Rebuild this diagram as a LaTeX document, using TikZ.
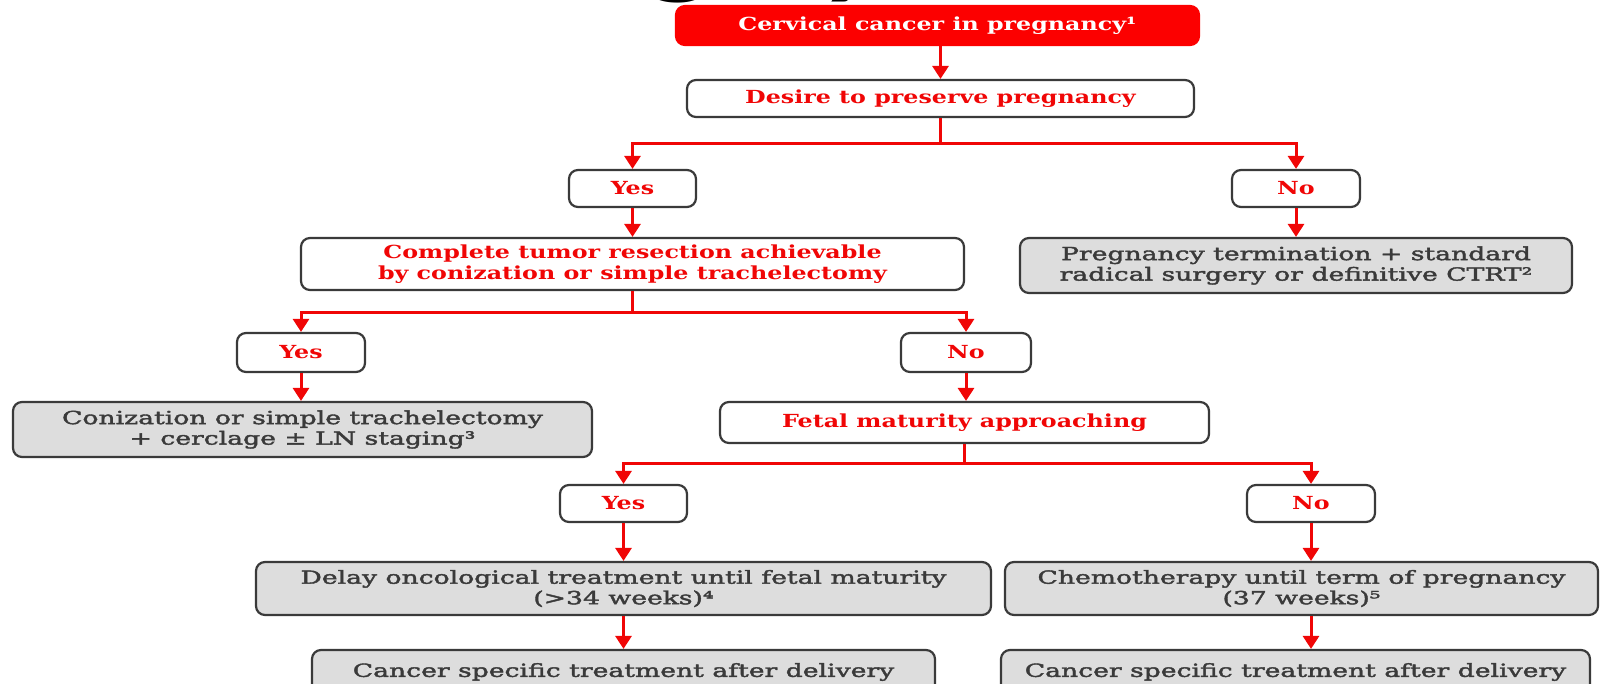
\documentclass[tikz,border=0pt]{standalone}
\usepackage{fontspec}
\usetikzlibrary{arrows.meta}
\newfontfamily\boxfont{DejaVu Serif}[FakeStretch=1.32]
\newfontfamily\actfont{DejaVu Serif}[FakeStretch=1.48, FakeBold=2.2]
\newfontfamily\titlefont{Carlito}[FakeStretch=1.5]

\definecolor{accent}{RGB}{240,6,6}
\definecolor{topfill}{RGB}{252,0,0}
\definecolor{edge}{RGB}{58,58,58}
\definecolor{shade}{RGB}{221,221,221}
\definecolor{darktext}{RGB}{58,58,58}

\tikzset{
  basebox/.style={draw=edge, line width=2.2pt, rounded corners=9pt, align=center,
    inner sep=0pt, font=\boxfont\bfseries\fontsize{18}{20.5}\selectfont},
  askbox/.style={basebox, fill=white, text=accent},
  actbox/.style={basebox, fill=shade, text=darktext,
    font=\actfont\fontsize{18}{20.5}\selectfont},
  startbox/.style={basebox, draw=topfill, fill=topfill, text=white},
  flow/.style={draw=accent, line width=3pt,
    -{Triangle[width=16pt,length=13pt]}},
  trunk/.style={draw=accent, line width=3pt},
}

\begin{document}
\begin{tikzpicture}[x=1pt, y=-1pt]
\useasboundingbox (0,0) rectangle (1602,683);

% slide heading, only its lowest part reaches into the page
\node[anchor=base west, inner sep=0pt, text=black,
  font=\titlefont\bfseries\fontsize{86}{86}\selectfont] (title) at (474,-12) {Surgery};

% decision nodes and treatment boxes
\node[startbox, minimum width=523pt, minimum height=39pt] (start) at (937.5,25.5) {Cervical cancer in pregnancy¹};
\node[askbox, minimum width=507pt, minimum height=37pt] (desire) at (940.5,98.5) {Desire to preserve pregnancy};

\node[askbox, minimum width=127pt, minimum height=37pt] (yesA) at (632.5,188.5) {Yes};
\node[askbox, minimum width=128pt, minimum height=37pt] (noA) at (1296,188.5) {No};

\node[askbox, minimum width=663pt, minimum height=52pt] (resect) at (632.5,264) {Complete tumor resection achievable\\by conization or simple trachelectomy};
\node[actbox, minimum width=552pt, minimum height=55pt] (terminate) at (1296,265.5) {Pregnancy termination + standard\\radical surgery or definitive CTRT²};

\node[askbox, minimum width=128pt, minimum height=39pt] (yesB) at (301,352.5) {Yes};
\node[askbox, minimum width=130pt, minimum height=39pt] (noB) at (966,352.5) {No};

\node[actbox, minimum width=579pt, minimum height=55pt] (coniz) at (302.5,429.5) {Conization or simple trachelectomy\\+ cerclage ± LN staging³};
\node[askbox, minimum width=489pt, minimum height=41pt] (fetal) at (964.5,422.5) {Fetal maturity approaching};

\node[askbox, minimum width=127pt, minimum height=37pt] (yesC) at (623.5,503.5) {Yes};
\node[askbox, minimum width=128pt, minimum height=37pt] (noC) at (1311,503.5) {No};

\node[actbox, minimum width=735pt, minimum height=53pt] (delay) at (623.5,588.5) {Delay oncological treatment until fetal maturity\\(>34 weeks)⁴};
\node[actbox, minimum width=593pt, minimum height=53pt] (chemo) at (1301.5,588.5) {Chemotherapy until term of pregnancy\\(37 weeks)⁵};

\node[actbox, minimum width=623pt, minimum height=44pt] (afterA) at (623.5,672) {Cancer specific treatment after delivery};
\node[actbox, minimum width=589pt, minimum height=44pt] (afterB) at (1295.5,672) {Cancer specific treatment after delivery};

% connectors
\draw[flow] (desire.north |- start.south) -- (desire.north);

\coordinate (splitA) at (desire.south |- 0,143);
\draw[trunk] (desire.south) -- (splitA);
\draw[flow] (splitA) -| (yesA.north);
\draw[flow] (splitA) -| (noA.north);
\draw[flow] (yesA.south) -- (resect.north);
\draw[flow] (noA.south) -- (terminate.north);

\coordinate (splitB) at (resect.south |- 0,312);
\draw[trunk] (resect.south) -- (splitB);
\draw[flow] (splitB) -| (yesB.north);
\draw[flow] (splitB) -| (noB.north);
\draw[flow] (yesB.south) -- (yesB.south |- coniz.north);
\draw[flow] (noB.south) -- (noB.south |- fetal.north);

\coordinate (splitC) at (fetal.south |- 0,463);
\draw[trunk] (fetal.south) -- (splitC);
\draw[flow] (splitC) -| (yesC.north);
\draw[flow] (splitC) -| (noC.north);
\draw[flow] (yesC.south) -- (delay.north);
\draw[flow] (noC.south) -- (noC.south |- chemo.north);

\draw[flow] (delay.south) -- (afterA.north);
\draw[flow] (noC.south |- chemo.south) -- (noC.south |- afterB.north);
\end{tikzpicture}
\end{document}
